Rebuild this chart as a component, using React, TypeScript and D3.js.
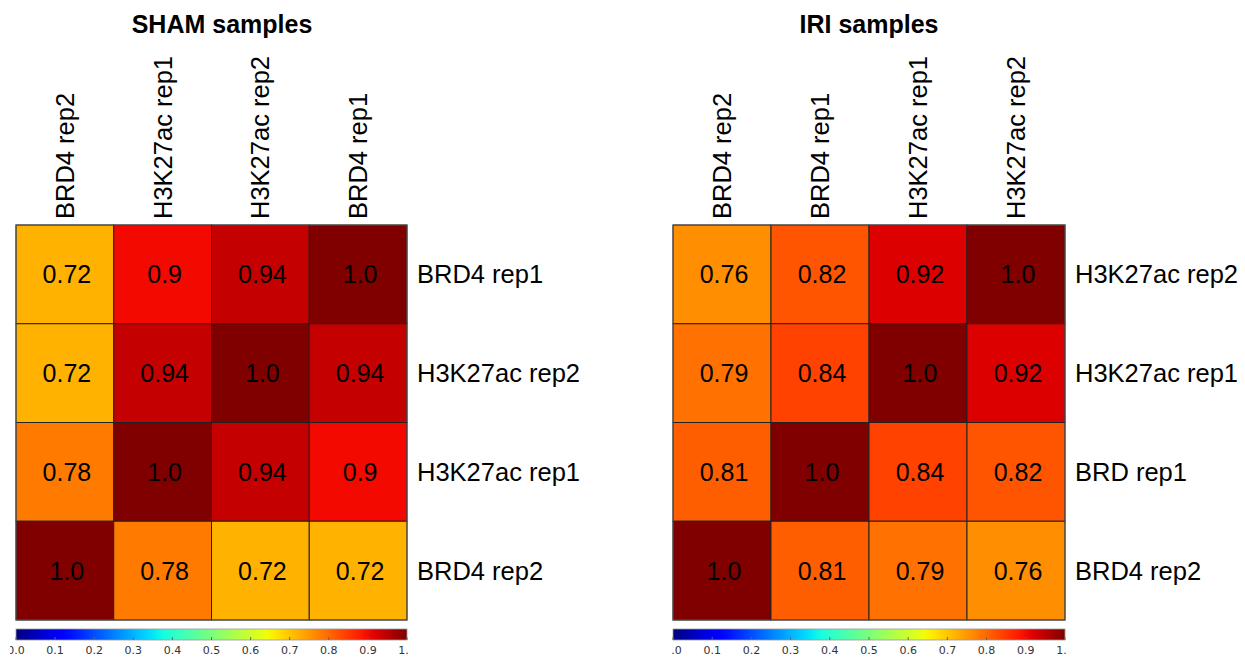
import React from "react";
import * as d3 from "d3";

const shamCols = ["BRD4 rep2", "H3K27ac rep1", "H3K27ac rep2", "BRD4 rep1"];
const shamRows = ["BRD4 rep1", "H3K27ac rep2", "H3K27ac rep1", "BRD4 rep2"];
const shamValues = [
  [0.72, 0.9, 0.94, 1.0],
  [0.72, 0.94, 1.0, 0.94],
  [0.78, 1.0, 0.94, 0.9],
  [1.0, 0.78, 0.72, 0.72],
];

const iriCols = ["BRD4 rep2", "BRD4 rep1", "H3K27ac rep1", "H3K27ac rep2"];
const iriRows = ["H3K27ac rep2", "H3K27ac rep1", "BRD rep1", "BRD4 rep2"];
const iriValues = [
  [0.76, 0.82, 0.92, 1.0],
  [0.79, 0.84, 1.0, 0.92],
  [0.81, 1.0, 0.84, 0.82],
  [1.0, 0.81, 0.79, 0.76],
];

const colorbarTicks = [0, 0.1, 0.2, 0.3, 0.4, 0.5, 0.6, 0.7, 0.8, 0.9, 1.0];

// matplotlib "jet" segment data
const jetR: [number, number][] = [[0, 0], [0.35, 0], [0.66, 1], [0.89, 1], [1, 0.5]];
const jetG: [number, number][] = [[0, 0], [0.125, 0], [0.375, 1], [0.64, 1], [0.91, 0], [1, 0]];
const jetB: [number, number][] = [[0, 0.5], [0.11, 1], [0.34, 1], [0.65, 0], [1, 0]];
function seg(s: [number, number][], x: number) {
  const sc = d3.scaleLinear().domain(s.map((p) => p[0])).range(s.map((p) => p[1])).clamp(true);
  return sc(x);
}
function jet(x: number) {
  return d3.rgb(seg(jetR, x) * 255, seg(jetG, x) * 255, seg(jetB, x) * 255).toString();
}

const FONT = "'Liberation Sans', Arial, sans-serif";
const fmt = (v: number) => (v === 1 ? "1.0" : String(v));

function Panel(props: {
  id: string;
  title: string;
  titleX: number;
  cols: string[];
  rows: string[];
  values: number[][];
  x0: number;
  x1: number;
  clipL: number;
  clipR: number;
}) {
  const { id, title, titleX, cols, rows, values, x0, x1, clipL, clipR } = props;
  const top = 225;
  const bottom = 620;
  const xs = d3.scaleBand<string>().domain(cols.map((c, i) => String(i))).range([x0, x1]);
  const ys = d3.scaleBand<string>().domain(rows.map((r, i) => String(i))).range([top, bottom]);
  const cbTop = 629;
  const cbH = 11;
  const cbX = d3.scaleLinear().domain([0, 1]).range([x0, x1]);
  const stops = d3.range(0, 1.0001, 0.02);
  return (
    <g>
      <defs>
        <linearGradient id={`grad-${id}`} x1="0" x2="1" y1="0" y2="0">
          {stops.map((s) => (
            <stop key={s} offset={`${s * 100}%`} stopColor={jet(s)} />
          ))}
        </linearGradient>
        <clipPath id={`clip-${id}`}>
          <rect x={x0 - clipL} y={cbTop + cbH} width={x1 - x0 + clipL + clipR} height={30} />
        </clipPath>
      </defs>
      <text x={titleX} y={33} fontFamily={FONT} fontWeight="bold" fontSize={25} textAnchor="middle" fill="#000">
        {title}
      </text>
      {cols.map((c, i) => {
        const cx = (xs(String(i)) as number) + xs.bandwidth() / 2;
        return (
          <text
            key={"c" + i}
            transform={`translate(${cx + 9},${219}) rotate(-90)`}
            fontFamily={FONT}
            fontSize={25.5}
            fill="#000"
          >
            {c}
          </text>
        );
      })}
      {values.map((row, ri) =>
        row.map((v, ci) => {
          const x = xs(String(ci)) as number;
          const y = ys(String(ri)) as number;
          return (
            <g key={`${ri}-${ci}`}>
              <rect x={x} y={y} width={xs.bandwidth()} height={ys.bandwidth()} fill={jet(v)} stroke="#222" strokeWidth={1} />
              <text
                x={x + xs.bandwidth() / 2 + 2}
                y={y + ys.bandwidth() / 2 + 9}
                textAnchor="middle"
                fontFamily={FONT}
                fontSize={25}
                fill="#000"
              >
                {fmt(v)}
              </text>
            </g>
          );
        })
      )}
      <rect x={x0} y={top} width={x1 - x0} height={bottom - top} fill="none" stroke="#555" strokeWidth={1} />
      {rows.map((r, i) => {
        const cy = (ys(String(i)) as number) + ys.bandwidth() / 2;
        return (
          <text key={"r" + i} x={x1 + 10} y={cy + 9} fontFamily={FONT} fontSize={25.5} fill="#000">
            {r}
          </text>
        );
      })}
      <rect x={x0} y={cbTop} width={x1 - x0} height={cbH} fill={`url(#grad-${id})`} stroke="#999" strokeWidth={0.8} />
      {colorbarTicks.map((t) => (
        <line key={"t" + t} x1={cbX(t)} x2={cbX(t)} y1={cbTop + cbH} y2={cbTop + cbH - 3} stroke="#666" strokeWidth={1} />
      ))}
      <g clipPath={`url(#clip-${id})`}>
        {colorbarTicks.map((t) => (
          <text
            key={"l" + t}
            x={cbX(t)}
            y={654}
            textAnchor="middle"
            fontFamily="'DejaVu Sans', sans-serif"
            fontSize={11}
            fill="#333"
          >
            {t.toFixed(1)}
          </text>
        ))}
      </g>
    </g>
  );
}

export default function App() {
  return (
    <svg width={1245} height={657} style={{ position: "absolute", left: 0, top: 0, background: "#fff" }}>
      <Panel id="sham" title="SHAM samples" titleX={222} cols={shamCols} rows={shamRows} values={shamValues} x0={16} x1={407} clipL={6} clipR={2} />
      <Panel id="iri" title="IRI samples" titleX={869} cols={iriCols} rows={iriRows} values={iriValues} x0={673} x1={1065} clipL={1} clipR={2} />
    </svg>
  );
}
